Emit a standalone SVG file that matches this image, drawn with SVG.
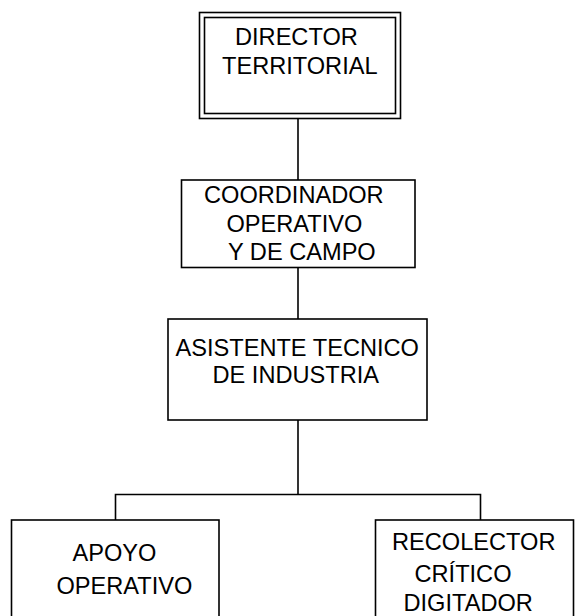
<svg xmlns="http://www.w3.org/2000/svg" width="575" height="616" viewBox="0 0 575 616">
<style>
.box{fill:#fff;stroke:#000;stroke-width:1.6}
.ln{fill:none;stroke:#000;stroke-width:1.6}
.t{font-family:"Liberation Sans",Arial,sans-serif;font-size:23.6px;fill:#000}
</style>
<rect width="575" height="616" fill="#fff"/>
<g id="connectors">
<line class="ln" x1="298" y1="118.5" x2="298" y2="180"/>
<line class="ln" x1="298" y1="267.5" x2="298" y2="319"/>
<polyline class="ln" points="298,420 298,494.5"/>
<polyline class="ln" points="115.5,520 115.5,494.5 480.5,494.5 480.5,520"/>
</g>
<g id="director">
<rect class="box" x="199.5" y="12.5" width="201" height="106"/>
<rect class="box" x="204.5" y="17.5" width="191" height="96"/>
<text class="t" x="235" y="45">DIRECTOR</text>
<text class="t" x="222" y="73.5">TERRITORIAL</text>
</g>
<g id="coordinador">
<rect class="box" x="181.5" y="180" width="233.5" height="87.5"/>
<text class="t" x="204" y="203">COORDINADOR</text>
<text class="t" x="226.5" y="231.5">OPERATIVO</text>
<text class="t" x="228" y="259.5">Y DE CAMPO</text>
</g>
<g id="asistente">
<rect class="box" x="168" y="319" width="259" height="101"/>
<text class="t" x="175.5" y="355.5">ASISTENTE TECNICO</text>
<text class="t" x="212.5" y="383">DE INDUSTRIA</text>
</g>
<g id="apoyo">
<rect class="box" x="11.5" y="520" width="207.5" height="110"/>
<text class="t" x="72.5" y="561">APOYO</text>
<text class="t" x="56.5" y="594">OPERATIVO</text>
</g>
<g id="recolector">
<rect class="box" x="375.5" y="520" width="198" height="110"/>
<text class="t" x="392" y="550">RECOLECTOR</text>
<text class="t" x="414.5" y="582">CRÍTICO</text>
<text class="t" x="403.5" y="610.5">DIGITADOR</text>
</g>
</svg>
